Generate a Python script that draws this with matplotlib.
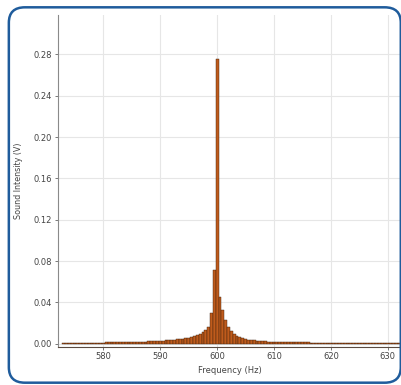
import numpy as np, matplotlib
matplotlib.use('Agg')
import matplotlib.pyplot as plt
from matplotlib.patches import FancyBboxPatch

# bin centres (Hz), 0.5 Hz bins
freq = [573.0, 573.5, 574.0, 574.5, 575.0, 575.5, 576.0, 576.5, 577.0, 577.5,
        578.0, 578.5, 579.0, 579.5, 580.0, 580.5, 581.0, 581.5, 582.0, 582.5,
        583.0, 583.5, 584.0, 584.5, 585.0, 585.5, 586.0, 586.5, 587.0, 587.5,
        588.0, 588.5, 589.0, 589.5, 590.0, 590.5, 591.0, 591.5, 592.0, 592.5,
        593.0, 593.5, 594.0, 594.5, 595.0, 595.5, 596.0, 596.5, 597.0, 597.5,
        598.0, 598.5, 599.0, 599.5, 600.0, 600.5, 601.0, 601.5, 602.0, 602.5,
        603.0, 603.5, 604.0, 604.5, 605.0, 605.5, 606.0, 606.5, 607.0, 607.5,
        608.0, 608.5, 609.0, 609.5, 610.0, 610.5, 611.0, 611.5, 612.0, 612.5,
        613.0, 613.5, 614.0, 614.5, 615.0, 615.5, 616.0, 616.5, 617.0, 617.5,
        618.0, 618.5, 619.0, 619.5, 620.0, 620.5, 621.0, 621.5, 622.0, 622.5,
        623.0, 623.5, 624.0, 624.5, 625.0, 625.5, 626.0, 626.5, 627.0, 627.5,
        628.0, 628.5, 629.0, 629.5, 630.0, 630.5, 631.0, 631.5, 632.0]
# sound intensity (V)
intensity = [0.0008, 0.0008, 0.0008, 0.0009, 0.0009, 0.0009, 0.0010, 0.0010, 0.0010, 0.0011,
             0.0011, 0.0011, 0.0012, 0.0012, 0.0012, 0.0013, 0.0013, 0.0014, 0.0014, 0.0015,
             0.0015, 0.0016, 0.0016, 0.0017, 0.0018, 0.0018, 0.0019, 0.0020, 0.0021, 0.0022,
             0.0023, 0.0024, 0.0025, 0.0027, 0.0028, 0.0030, 0.0032, 0.0034, 0.0036, 0.0039,
             0.0042, 0.0045, 0.0049, 0.0053, 0.0058, 0.0064, 0.0072, 0.0082, 0.0095, 0.0112,
             0.0135, 0.0165, 0.0300, 0.0710, 0.2750, 0.0450, 0.0330, 0.0230, 0.0160, 0.0125,
             0.0095, 0.0075, 0.0062, 0.0053, 0.0046, 0.0040, 0.0036, 0.0032, 0.0029, 0.0027,
             0.0025, 0.0023, 0.0022, 0.0021, 0.0020, 0.0019, 0.0018, 0.0017, 0.0017, 0.0016,
             0.0015, 0.0015, 0.0014, 0.0014, 0.0013, 0.0013, 0.0013, 0.0012, 0.0012, 0.0012,
             0.0011, 0.0011, 0.0011, 0.0011, 0.0010, 0.0010, 0.0010, 0.0010, 0.0010, 0.0009,
             0.0009, 0.0009, 0.0009, 0.0009, 0.0009, 0.0008, 0.0008, 0.0008, 0.0008, 0.0008,
             0.0008, 0.0008, 0.0008, 0.0007, 0.0007, 0.0007, 0.0007, 0.0007, 0.0007]
xticks = [580, 590, 600, 610, 620, 630]
yticks = [0.00, 0.04, 0.08, 0.12, 0.16, 0.20, 0.24, 0.28]

C_BAR = '#BF5B1C'; C_EDGE = '#3A1E0C'; C_BORDER = '#1F5C9C'; C_TXT = '#444444'

fig = plt.figure(figsize=(4.02, 3.85), dpi=100, facecolor='white')
ax = fig.add_axes([0.144, 0.099, 0.856, 0.862])
ax.bar(freq, intensity, width=0.5, color=C_BAR, edgecolor=C_EDGE, linewidth=0.3, zorder=3)
ax.set_xlim(572, 632.5); ax.set_ylim(-0.003, 0.318)
ax.set_xticks(xticks); ax.set_yticks(yticks)
ax.set_yticklabels([f'{v:.2f}' for v in yticks])
ax.tick_params(labelsize=6, colors=C_TXT, length=2, width=0.5, pad=2)
ax.grid(color='#E6E6E6', lw=0.8, zorder=0)
ax.set_axisbelow(True)
ax.spines['top'].set_visible(False); ax.spines['right'].set_visible(False)
ax.spines['left'].set_color('#8A8A8A'); ax.spines['bottom'].set_color('#5A4A40')
ax.set_xlabel('Frequency (Hz)', fontsize=6, color=C_TXT, labelpad=3)
ax.set_ylabel('Sound Intensity (V)', fontsize=5.8, color=C_TXT, labelpad=8)
border = FancyBboxPatch((0.022, 0.006), 0.975, 0.975, boxstyle='round,pad=0,rounding_size=0.04',
                        transform=fig.transFigure, fc='none', ec=C_BORDER, lw=1.8, zorder=10)
fig.add_artist(border)
fig.savefig('out.png', dpi=100, facecolor='white')
